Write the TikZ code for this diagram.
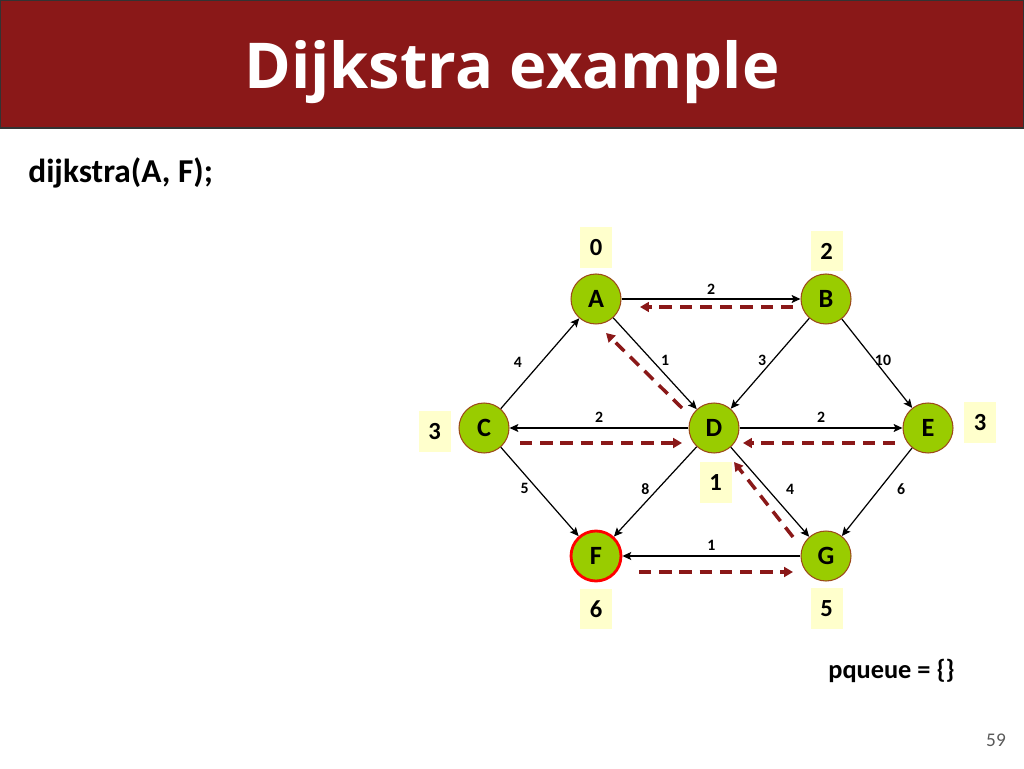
\documentclass[tikz,border=0pt]{standalone}
\usepackage{fontspec}
\setmainfont{Carlito}
\newfontfamily\titlefont{Open Sans}
\usetikzlibrary{arrows.meta}
\usepackage{xcolor}
\definecolor{Maroon}{HTML}{8A1818}
\definecolor{Leaf}{HTML}{99CC00}
\definecolor{Rim}{HTML}{9C4A1A}
\definecolor{Cream}{HTML}{FFFFCC}
\definecolor{PageGray}{HTML}{595959}

\begin{document}
\begin{tikzpicture}[x=0.02cm,y=0.02cm,
    vert/.style={circle,draw=Rim,fill=Leaf,line width=0.6pt,minimum size=1cm,
                 inner sep=0pt,font=\fontsize{15}{15}\selectfont\bfseries},
    dist/.style={fill=Cream,minimum width=0.64cm,minimum height=0.82cm,
                 inner sep=0pt,font=\fontsize{14}{14}\selectfont\bfseries},
    wt/.style={inner sep=0pt,font=\fontsize{9}{9}\selectfont\bfseries},
    edge/.style={-{Stealth[length=5pt,width=4.5pt,inset=1pt]},line width=0.7pt},
    back/.style={-{Triangle[length=5pt,width=5.5pt]},Maroon,line width=2pt,
                 dash pattern=on 7pt off 4.5pt}]
  \useasboundingbox (0,0) rectangle (1024,768);

  % title bar
  \filldraw[fill=Maroon,draw=black!80,line width=0.8pt] (0.5,640) rectangle (1023.5,767.5);
  \node[anchor=base,text=white,font=\titlefont\fontsize{36}{36}\selectfont\bfseries]
    (title) at (512,679) {Dijkstra example};
  \node[anchor=base west,inner sep=0pt,font=\fontsize{19}{19}\selectfont\bfseries]
    (call) at (28,585) {dijkstra(A, F);};

  % vertices
  \node[vert] (A) at (596,469) {A};
  \node[vert] (B) at (826,469) {B};
  \node[vert] (C) at (484,340) {C};
  \node[vert] (D) at (714,340) {D};
  \node[vert] (E) at (928,340) {E};
  \node[vert,draw=red,line width=1.6pt] (F) at (596,212) {F};
  \node[vert] (G) at (826,212) {G};

  % distances
  \node[dist] (dA) at (596,520.5) {0};
  \node[dist] (dB) at (826.5,517) {2};
  \node[dist] (dC) at (434.5,336.5) {3};
  \node[dist] (dD) at (715.5,285.5) {1};
  \node[dist] (dE) at (980,345.5) {3};
  \node[dist] (dF) at (596,159) {6};
  \node[dist] (dG) at (826.5,159.5) {5};

  % weighted edges
  \draw[edge] (A) -- node[wt,above=2pt] (wAB) {2} (B);
  \draw[edge] (C) -- node[wt,shift={(-22,1.5)}] (wCA) {4} (A);
  \draw[edge] (A) -- node[wt,shift={(10,3.5)}] (wAD) {1} (D);
  \draw[edge] (B) -- node[wt,shift={(-8,3.5)}] (wBD) {3} (D);
  \draw[edge] (B) -- node[wt,shift={(6,3.5)}] (wBE) {10} (E);
  \draw[edge] (D) -- node[wt,above=2.5pt] (wDC) {2} (C);
  \draw[edge] (D) -- node[wt,above=2.5pt] (wDE) {2} (E);
  \draw[edge] (C) -- node[wt,shift={(-15,3)}] (wCF) {5} (F);
  \draw[edge] (D) -- node[wt,shift={(-10,3)}] (wDF) {8} (F);
  \draw[edge] (D) -- node[wt,shift={(20,3)}] (wDG) {4} (G);
  \draw[edge] (E) -- node[wt,shift={(24,3)}] (wEG) {6} (G);
  \draw[edge] (G) -- node[wt,above=2.5pt] (wGF) {1} (F);

  % path pointers
  \draw[back] ([shift={(-33,-8)}]B.center) -- ([shift={(44,-8)}]A.center);
  \draw[back] ([shift={(-32,20)}]D.center) -- ([shift={(10,-34)}]A.center);
  \draw[back] ([shift={(36,-15)}]C.center) -- ([shift={(-32,-15)}]D.center);
  \draw[back] ([shift={(-33,-15)}]E.center) -- ([shift={(29,-15)}]D.center);
  \draw[back] ([shift={(-33,19)}]G.center) -- ([shift={(20,-34)}]D.center);
  \draw[back] ([shift={(43,-16)}]F.center) -- ([shift={(-33,-16)}]G.center);

  \node[anchor=base west,inner sep=0pt,font=\fontsize{15}{15}\selectfont\bfseries]
    (pq) at (828,90) {pqueue = \{\}};
  \node[text=PageGray,font=\fontsize{11}{11}\selectfont] (page) at (996,28) {59};
\end{tikzpicture}
\end{document}
